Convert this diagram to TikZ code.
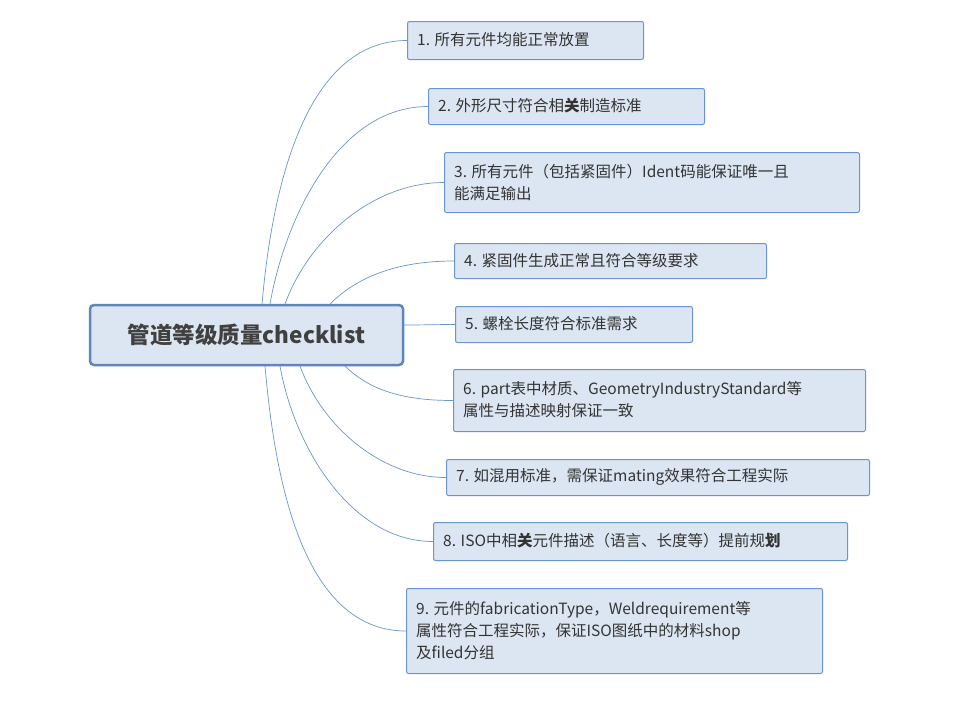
\documentclass[tikz,border=0pt]{standalone}
\usepackage{fontspec}
\setmainfont{Noto Sans CJK SC}
\begin{document}
\begin{tikzpicture}[x=1pt,y=-1pt,
  box/.style={draw=bb,fill=bf,line width=1pt,rounded corners=2pt,inner sep=0pt,anchor=north west},
  ln/.style={draw=lc,line width=0.7pt}]
\definecolor{bb}{HTML}{6A95D0}
\definecolor{bf}{HTML}{DCE6F2}
\definecolor{lc}{HTML}{6A95D0}
\useasboundingbox[fill=white] (0,0) rectangle (980,721);
\node[box,draw=bb!90!black,line width=2.5pt,rounded corners=4pt,minimum width=313pt,minimum height=60pt,anchor=center,font=\fontsize{22.5}{26}\selectfont\bfseries,text=black!75,align=center] (c) at (246.5,335) {管道等级质量checklist};
\newcommand{\bx}[6]{\node[box,minimum width=#4pt-#2pt,minimum height=#5pt-#3pt] (#1) at (#2,#3) {};
  \node[anchor=west,text=black!80,font=\fontsize{15.5}{22}\selectfont,align=left,inner sep=0pt] at (#2+10,{(#3+#5)/2}) {#6};}
\bx{n1}{407}{21}{643}{59}{1. 所有元件均能正常放置}
\bx{n2}{428}{88}{704}{124}{2. 外形尺寸符合相\textbf{关}制造标准}
\bx{n3}{444}{152}{859}{212}{3. 所有元件（包括紧固件）Ident码能保证唯一且\\能满足输出}
\bx{n4}{454}{243}{766}{278}{4. 紧固件生成正常且符合等级要求}
\bx{n5}{455}{306}{692}{342}{5. 螺栓长度符合标准需求}
\bx{n6}{453}{369}{865}{431}{6. part表中材质、GeometryIndustryStandard等\\属性与描述映射保证一致}
\bx{n7}{446}{459}{869}{495}{7. 如混用标准，需保证mating效果符合工程实际}
\bx{n8}{433}{522}{847}{560}{8. ISO中相\textbf{关}元件描述（语言、长度等）提前规\textbf{划}}
\bx{n9}{406}{588}{822}{673}{9. 元件的fabricationType，Weldrequirement等\\属性符合工程实际，保证ISO图纸中的材料shop\\及filed分组}
\draw[ln] (262,304) to[out=85,in=180,looseness=0.9] (n1.west);
\draw[ln] (270,304) to[out=80,in=180,looseness=0.9] (n2.west);
\draw[ln] (285,304) to[out=70,in=180,looseness=0.9] (n3.west);
\draw[ln] (330,304) to[out=45,in=180,looseness=0.9] (n4.west);
\draw[ln] (404,325) to[out=0,in=180] (n5.west);
\draw[ln] (345,366) to[out=-45,in=180,looseness=0.9] (n6.west);
\draw[ln] (300,366) to[out=-70,in=180,looseness=0.9] (n7.west);
\draw[ln] (280,366) to[out=-80,in=180,looseness=0.9] (n8.west);
\draw[ln] (265,366) to[out=-85,in=180,looseness=0.9] (n9.west);
\end{tikzpicture}
\end{document}
